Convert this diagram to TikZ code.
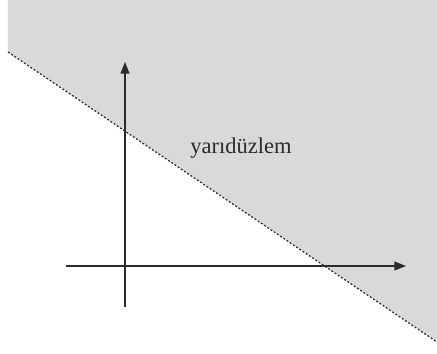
\documentclass[tikz,border=0pt]{standalone}
\usepackage{fontspec}
\setmainfont{Liberation Serif}
\usetikzlibrary{arrows.meta, positioning}
\definecolor{halfgray}{HTML}{D9D9D9}
\definecolor{axisdark}{HTML}{2B2B2B}

\begin{document}
\begin{tikzpicture}[x=0.02cm, y=-0.02cm,
          ax/.style={draw=axisdark, line width=0.85pt, -{Triangle[length=6.6pt, width=5pt]}},
          bound/.style={draw=axisdark, line width=0.7pt, dash pattern=on 1.1pt off 1.1pt}]
        \useasboundingbox (0,0) rectangle (437,353);
        % half plane
        \coordinate (l) at (8,52);
        \coordinate (r) at (437,342);
        \fill[halfgray] (8,0) -- (437,0) -- (r) -- (l) -- cycle;
        \draw[bound] (l) -- (r);
        % axes
        \coordinate (xs) at (66,266);
        \coordinate (xe) at (406,266);
        \coordinate (ys) at (125,307);
        \coordinate (ye) at (125,62);
        \draw[ax] (xs) -- (xe);
        \draw[ax] (ys) -- (ye);
        \node[font=\fontsize{12.8}{15}\selectfont, text=axisdark] (lbl) at (241,148) {yarıdüzlem};
      \end{tikzpicture}
\end{document}
